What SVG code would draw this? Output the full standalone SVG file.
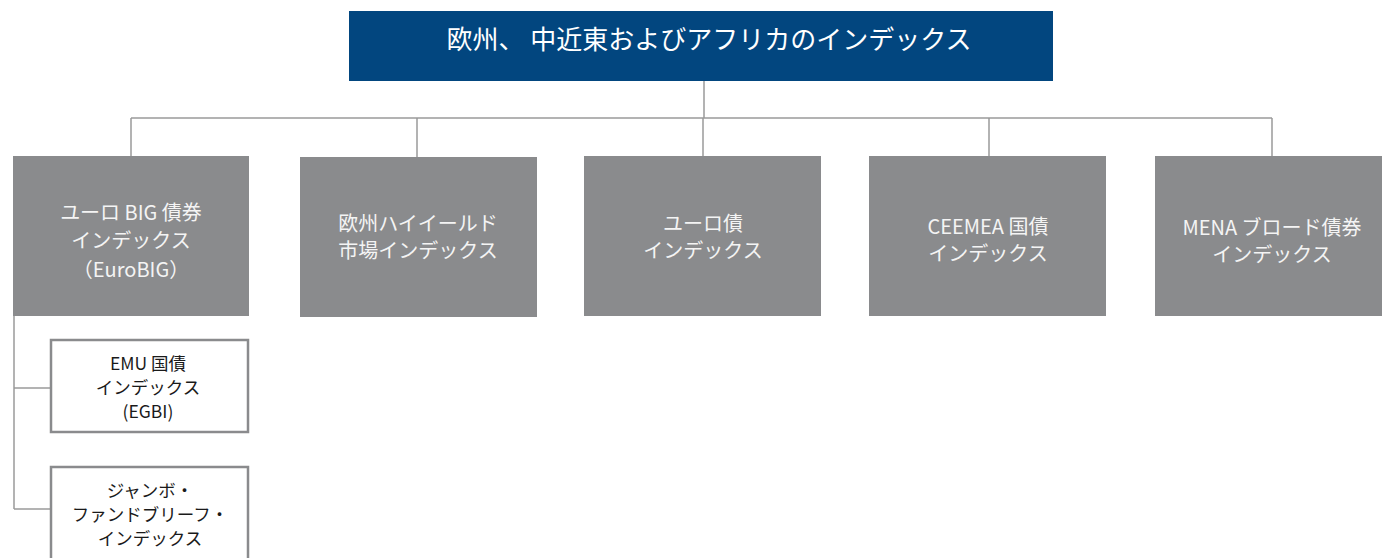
<svg xmlns="http://www.w3.org/2000/svg" width="1382" height="558" viewBox="0 0 1382 558">
<style>
.t{font-family:"Noto Sans CJK JP","Noto Sans",sans-serif;text-anchor:middle}
.g{fill:#8a8b8d}
.w{fill:#f4f4f4;font-size:20px}
.b{fill:#1a1a1a;font-size:17.5px}
.c{stroke:#9a9a9a;stroke-width:1.5;fill:none}
.o{fill:#fff;stroke:#8a8b8d;stroke-width:2.5}
</style>
<rect width="1382" height="558" fill="#fff"/>
<g id="connectors">
<path class="c" d="M704 81V118M131 118H1272M131 118V156M417 118V157M703 118V156M989 118V156M1272 118V156"/>
<path class="c" d="M14 316V509M14 388H51M14 509H51"/>
</g>
<g id="root">
<rect x="349" y="11" width="704" height="70" fill="#02467f"/>
<text class="t" x="709" y="49" fill="#fff" font-size="26">欧州、 中近東およびアフリカのインデックス</text>
</g>
<g id="eurobig">
<rect class="g" x="13" y="156" width="236" height="160"/>
<text class="t w" x="131" y="220">ユーロ BIG 債券</text>
<text class="t w" x="131" y="248">インデックス</text>
<text class="t w" x="131" y="277">（EuroBIG）</text>
</g>
<g id="highyield">
<rect class="g" x="300" y="157" width="237" height="160"/>
<text class="t w" x="418" y="231">欧州ハイイールド</text>
<text class="t w" x="418" y="258">市場インデックス</text>
</g>
<g id="eurobond">
<rect class="g" x="584" y="156" width="237" height="160"/>
<text class="t w" x="703" y="231">ユーロ債</text>
<text class="t w" x="703" y="258">インデックス</text>
</g>
<g id="ceemea">
<rect class="g" x="869" y="156" width="237" height="160"/>
<text class="t w" x="988" y="234">CEEMEA 国債</text>
<text class="t w" x="988" y="261">インデックス</text>
</g>
<g id="mena">
<rect class="g" x="1155" y="156" width="236" height="160"/>
<text class="t w" x="1272" y="235">MENA ブロード債券</text>
<text class="t w" x="1272" y="262">インデックス</text>
</g>
<g id="egbi">
<rect class="o" x="51" y="340" width="197" height="92"/>
<text class="t b" x="148" y="370">EMU 国債</text>
<text class="t b" x="148" y="394">インデックス</text>
<text class="t b" x="148" y="418">(EGBI)</text>
</g>
<g id="jumbo">
<rect class="o" x="51" y="467" width="197" height="100"/>
<text class="t b" x="150" y="497">ジャンボ・</text>
<text class="t b" x="150" y="521">ファンドブリーフ・</text>
<text class="t b" x="150" y="545">インデックス</text>
</g>
</svg>
